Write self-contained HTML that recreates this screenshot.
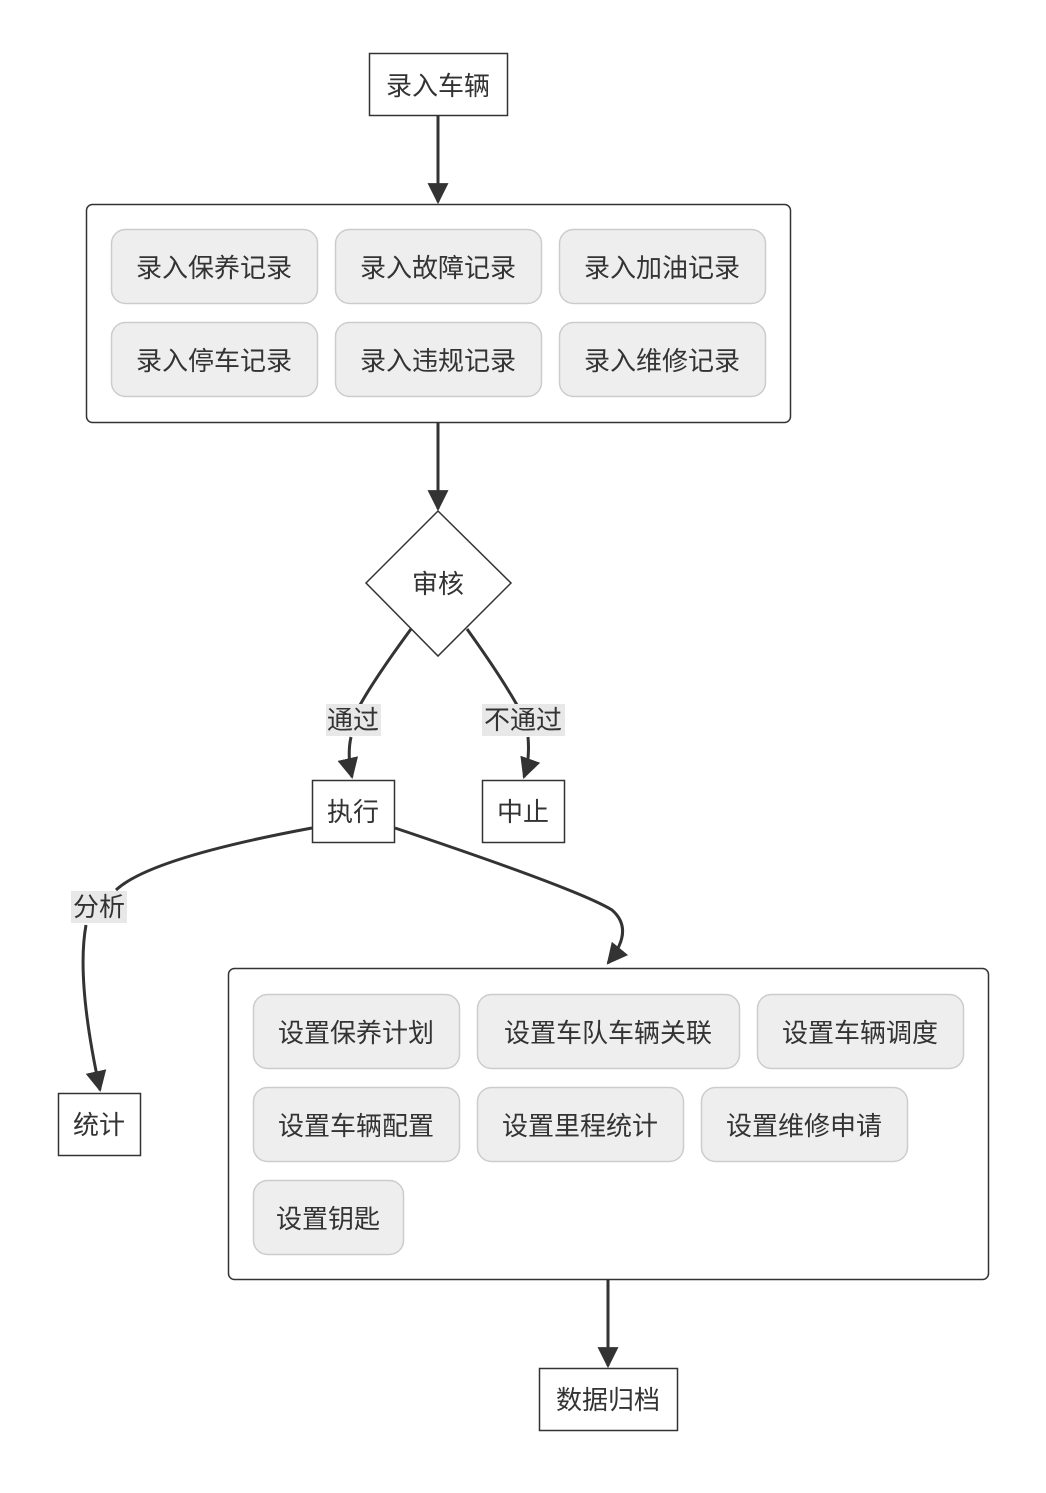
<!DOCTYPE html>
<html><head><meta charset="utf-8"><style>
html,body{margin:0;padding:0;background:#fff;}
svg text{font-family:"Liberation Sans","Noto Sans CJK SC",sans-serif;font-size:26px;fill:#333;text-anchor:middle;dominant-baseline:central;}
</style></head><body>
<svg width="1046" height="1488" viewBox="0 0 1046 1488" xmlns="http://www.w3.org/2000/svg">
<defs><marker id="a" viewBox="0 0 10 10" refX="9" refY="5" markerWidth="7" markerHeight="7" orient="auto"><path d="M0,0L10,5L0,10z" fill="#333"/></marker></defs>
<g fill="none" stroke="#333" stroke-width="3">
<path d="M438,116V202" marker-end="url(#a)"/>
<path d="M438,422V509" marker-end="url(#a)"/>
<path d="M411,629Q375,678 360,705" />
<path d="M351,737Q347,755 352,777" marker-end="url(#a)"/>
<path d="M467,629Q500,675 517,705"/>
<path d="M528,737Q530,760 524,777" marker-end="url(#a)"/>
<path d="M312,828Q150,858 116,890"/>
<path d="M86,925Q76,980 100,1090" marker-end="url(#a)"/>
<path d="M395,828Q580,890 612,910Q635,930 608,963" marker-end="url(#a)"/>
<path d="M608,1280V1366" marker-end="url(#a)"/>
</g>
<g fill="#fff" stroke="#333" stroke-width="1.5">
<rect x="369.5" y="53.5" width="138" height="62"/>
<rect x="86.5" y="204.5" width="704" height="218" rx="6"/>
<path d="M438,511L511,583L438,656L366,583Z"/>
<rect x="312.5" y="780.5" width="82" height="62"/>
<rect x="482.5" y="780.5" width="82" height="62"/>
<rect x="58.5" y="1093.5" width="82" height="62"/>
<rect x="228.5" y="968.5" width="760" height="311" rx="6"/>
<rect x="539.5" y="1368.5" width="138" height="62"/>
</g>
<g fill="#eee" stroke="#ccc" stroke-width="1.5">
<rect x="111.5" y="229.5" width="206" height="74" rx="14"/>
<rect x="335.5" y="229.5" width="206" height="74" rx="14"/>
<rect x="559.5" y="229.5" width="206" height="74" rx="14"/>
<rect x="111.5" y="322.5" width="206" height="74" rx="14"/>
<rect x="335.5" y="322.5" width="206" height="74" rx="14"/>
<rect x="559.5" y="322.5" width="206" height="74" rx="14"/>
<rect x="253.5" y="994.5" width="206" height="74" rx="14"/>
<rect x="477.5" y="994.5" width="262" height="74" rx="14"/>
<rect x="757.5" y="994.5" width="206" height="74" rx="14"/>
<rect x="253.5" y="1087.5" width="206" height="74" rx="14"/>
<rect x="477.5" y="1087.5" width="206" height="74" rx="14"/>
<rect x="701.5" y="1087.5" width="206" height="74" rx="14"/>
<rect x="253.5" y="1180.5" width="150" height="74" rx="14"/>
</g>
<g fill="#e8e8e8">
<rect x="326" y="704" width="55" height="32"/>
<rect x="482" y="704" width="83" height="32"/>
<rect x="71" y="891" width="56" height="32"/>
</g>
<text x="438" y="86">录入车辆</text>
<text x="214" y="268">录入保养记录</text>
<text x="438" y="268">录入故障记录</text>
<text x="662" y="268">录入加油记录</text>
<text x="214" y="361">录入停车记录</text>
<text x="438" y="361">录入违规记录</text>
<text x="662" y="361">录入维修记录</text>
<text x="438" y="584">审核</text>
<text x="353" y="720">通过</text>
<text x="523" y="720">不通过</text>
<text x="353" y="812">执行</text>
<text x="523" y="812">中止</text>
<text x="99" y="907">分析</text>
<text x="99" y="1125">统计</text>
<text x="356" y="1033">设置保养计划</text>
<text x="608" y="1033">设置车队车辆关联</text>
<text x="860" y="1033">设置车辆调度</text>
<text x="356" y="1126">设置车辆配置</text>
<text x="580" y="1126">设置里程统计</text>
<text x="804" y="1126">设置维修申请</text>
<text x="328" y="1219">设置钥匙</text>
<text x="608" y="1400">数据归档</text>
</svg>
</body></html>
